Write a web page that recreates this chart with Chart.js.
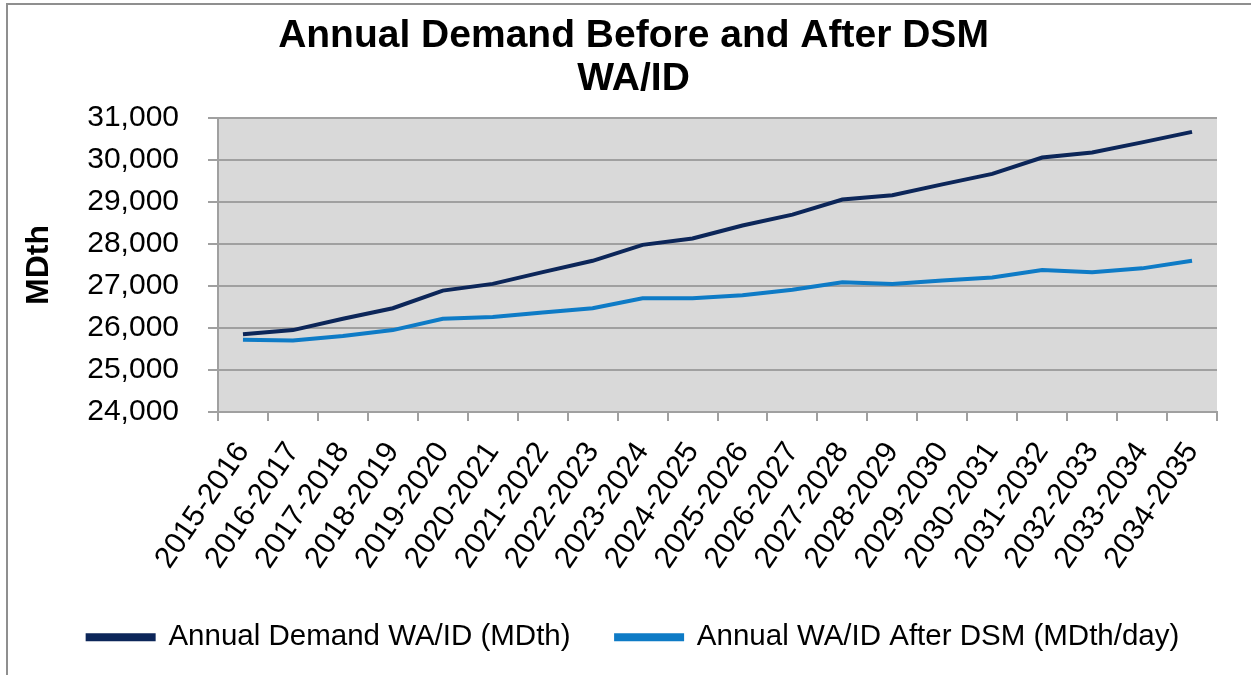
<!DOCTYPE html>
<html>
<head>
<meta charset="utf-8">
<script src="https://cdn.jsdelivr.net/npm/chart.js@4.4.1/dist/chart.umd.min.js"></script>
<style>
  html, body { margin: 0; padding: 0; background: #ffffff; }
  #wrap { width: 1251px; height: 675px; position: relative; }
  canvas { display: block; }
</style>
</head>
<body>
<div id="wrap"><canvas id="c" width="1251" height="675"></canvas></div>
<script>
const categories = [
  "2015-2016","2016-2017","2017-2018","2018-2019","2019-2020",
  "2020-2021","2021-2022","2022-2023","2023-2024","2024-2025",
  "2025-2026","2026-2027","2027-2028","2028-2029","2029-2030",
  "2030-2031","2031-2032","2032-2033","2033-2034","2034-2035"
];
const demandBefore = [
  25850, 25950, 26220, 26470, 26890, 27050, 27330, 27600, 27980, 28130,
  28440, 28700, 29060, 29160, 29420, 29670, 30060, 30180, 30420, 30670
];
const demandAfter = [
  25720, 25700, 25810, 25950, 26220, 26260, 26370, 26470, 26710, 26710,
  26780, 26910, 27090, 27050, 27130, 27200, 27380, 27330, 27420, 27600
];
const titleLines = ["Annual Demand Before and After DSM", "WA/ID"];
const yAxisTitle = "MDth";
const seriesNames = ["Annual Demand WA/ID (MDth)", "Annual WA/ID After DSM (MDth/day)"];
const yMin = 24000, yMax = 31000, yStep = 1000;

const FONT = "'Liberation Sans', Arial, sans-serif";

const bgPlugin = {
  id: 'bgPlugin',
  afterLayout(chart) {
    if (chart.legend) {
      chart.legend.left += 21;
      chart.legend.right += 21;
    }
    if (chart.titleBlock) {
      chart.titleBlock.left += 21;
      chart.titleBlock.right += 21;
    }
  },
  beforeDraw(chart) {
    const {ctx, chartArea: a} = chart;
    ctx.save();
    ctx.fillStyle = '#ffffff';
    ctx.fillRect(0, 0, chart.width, chart.height);
    ctx.fillStyle = '#d9d9d9';
    ctx.fillRect(a.left, a.top, a.right - a.left, a.bottom - a.top);
    ctx.strokeStyle = '#8f8f8f';
    ctx.lineWidth = 2;
    ctx.beginPath();
    ctx.moveTo(7, chart.height);
    ctx.lineTo(7, 4);
    ctx.lineTo(chart.width, 4);
    ctx.stroke();
    ctx.restore();
  }
};

new Chart(document.getElementById('c'), {
  type: 'line',
  data: {
    labels: categories,
    datasets: [
      {
        label: seriesNames[0],
        data: demandBefore,
        borderColor: '#0c2659',
        backgroundColor: '#0c2659',
        borderWidth: 4,
        pointRadius: 0,
        tension: 0
      },
      {
        label: seriesNames[1],
        data: demandAfter,
        borderColor: '#0e7bc6',
        backgroundColor: '#0e7bc6',
        borderWidth: 4,
        pointRadius: 0,
        tension: 0
      }
    ]
  },
  options: {
    responsive: false,
    animation: false,
    devicePixelRatio: 1,
    layout: { padding: { left: 8, right: 34, top: 0, bottom: 13 } },
    plugins: {
      title: {
        display: true,
        text: titleLines,
        color: '#000000',
        font: { family: FONT, size: 39, weight: 'bold', lineHeight: 1.1 },
        padding: { top: 14.5, bottom: 17.7 }
      },
      legend: {
        display: true,
        position: 'bottom',
        labels: {
          color: '#000000',
          font: { family: FONT, size: 29.5 },
          boxWidth: 66,
          boxHeight: 4,
          padding: 45.5
        }
      },
      tooltip: { enabled: false }
    },
    scales: {
      x: {
        offset: true,
        grid: {
          offset: true,
          drawOnChartArea: false,
          drawTicks: true,
          tickLength: 9,
          color: '#a0a0a0',
          lineWidth: 2
        },
        border: { display: true, color: '#a0a0a0', width: 2 },
        ticks: {
          color: '#000000',
          font: { family: FONT, size: 30 },
          minRotation: 56,
          maxRotation: 56,
          autoSkip: false,
          padding: 15
        },
        afterFit(scale) { scale.height = 165; }
      },
      y: {
        min: yMin,
        max: yMax,
        ticks: {
          stepSize: yStep,
          color: '#000000',
          font: { family: FONT, size: 30 },
          padding: 29,
          callback: (v) => Number(v).toLocaleString('en-US')
        },
        grid: {
          color: '#a0a0a0',
          lineWidth: 2,
          tickLength: 10,
          drawTicks: true
        },
        border: { display: true, color: '#a0a0a0', width: 2 },
        title: {
          display: true,
          text: yAxisTitle,
          color: '#000000',
          font: { family: FONT, size: 32, weight: 'bold' },
          padding: { top: 12, bottom: 0 }
        },
        afterFit(scale) { scale.width = 210; }
      }
    }
  },
  plugins: [bgPlugin]
});
</script>
</body>
</html>
